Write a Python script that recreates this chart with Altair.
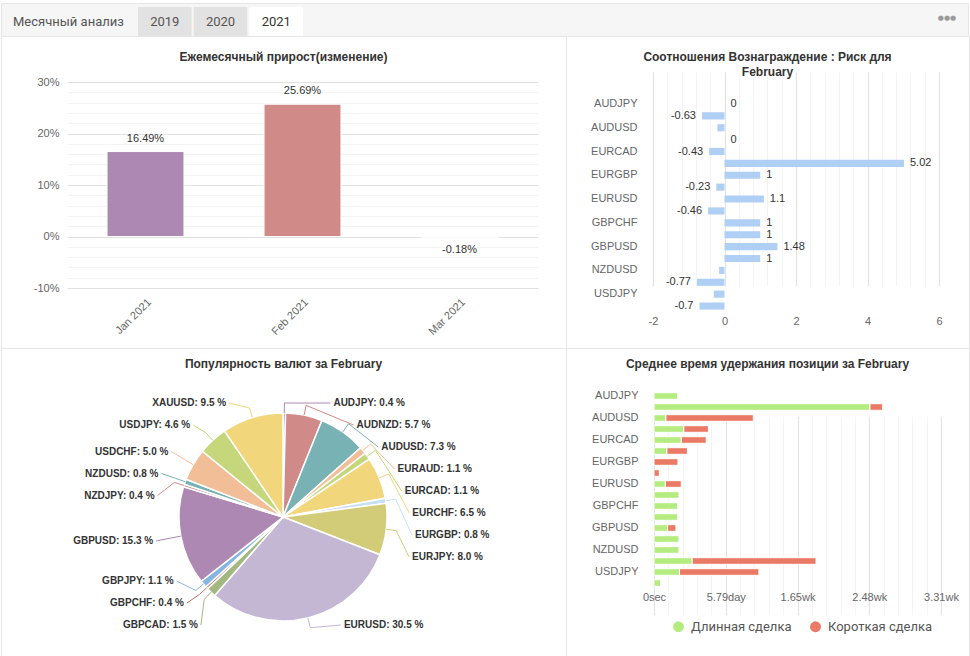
import altair as alt
import pandas as pd

# ---------------- data ----------------
tab_years = ["2019", "2020", "2021"]
active_year = "2021"

months = ["Jan 2021", "Feb 2021", "Mar 2021"]
monthly_growth = [16.49, 25.69, -0.18]

pairs = ["AUDJPY", "AUDNZD", "AUDUSD", "EURAUD", "EURCAD", "EURCHF", "EURGBP", "EURJPY", "EURUSD",
         "GBPCAD", "GBPCHF", "GBPJPY", "GBPUSD", "NZDJPY", "NZDUSD", "USDCHF", "USDJPY", "XAUUSD"]

reward_risk = [0, -0.63, -0.2, 0, -0.43, 5.02, 1, -0.23, 1.1,
               -0.46, 1, 1, 1.48, 1, -0.15, -0.77, -0.3, -0.7]
reward_risk_unlabelled = ["AUDUSD", "NZDUSD", "USDJPY"]

popularity = [0.4, 5.7, 7.3, 1.1, 1.1, 6.5, 0.8, 8.0, 30.5,
              1.5, 0.4, 1.1, 15.3, 0.4, 0.8, 5.0, 4.6, 9.5]

trade_kinds = ["Длинная сделка", "Короткая сделка"]
hold_long_sec = [167000, 1505000, 83000, 208000, 190000, 90000, 0, 0, 79000,
                 176000, 167000, 167000, 95000, 176000, 176000, 266000, 178000, 46000]
hold_short_sec = [0, 88000, 609000, 171000, 174000, 143000, 167000, 37000, 111000,
                  0, 0, 0, 58000, 0, 0, 863000, 553000, 0]

# ---------------- styling ----------------
palette = ["#AC88B2", "#D08A87", "#78B2B4", "#F1BE98", "#C5D77A", "#F1D67C",
           "#C8E0F6", "#D2CC78", "#C3B7D4", "#A3B880", "#C97070", "#85B6E3"]
pie_colors = (palette * 2)[:len(pairs)]
trade_colors = ["#B5EC7F", "#EA7A65"]
rr_bar_color = "#B0CFF4"

FONT = "Liberation Sans"
UI_FONT = "Roboto"
TEXT_DARK = "#333333"
AXIS_GREY = "#666666"
GRID_MAJOR = "#e2e2e2"
GRID_MINOR = "#f4f4f4"
BORDER = "#e6e6e6"
HEADER_BG = "#f6f6f6"

LEFT_W, RIGHT_W = 565, 403
HEAD_H, TOP_H, BOTTOM_H = 33, 312, 309


def grid_color(test):
    return {"condition": {"test": test, "value": GRID_MAJOR}, "value": GRID_MINOR}


def axis(**kw):
    base = dict(domain=False, ticks=False, labelFont=FONT, labelFontSize=11,
                labelColor=AXIS_GREY, title=None, labelOverlap=False, labelFlush=False)
    base.update(kw)
    return alt.Axis(**base)


def panel_title(text, x, y):
    return alt.Chart(pd.DataFrame({"t": [text]})).mark_text(
        font=FONT, fontSize=12, fontWeight="bold", color=TEXT_DARK,
        lineBreak="\n", lineHeight=15, baseline="middle", align="center"
    ).encode(x=alt.value(x), y=alt.value(y), text="t:N")


def frame_line(x, x2, y, y2):
    # thin border line of the tab strip
    return alt.Chart(pd.DataFrame({"a": [0]})).mark_rule(color=BORDER, strokeWidth=1).encode(
        x=alt.value(x), x2=alt.value(x2), y=alt.value(y), y2=alt.value(y2))


# ---------------- tab strip ----------------
tabs_df = pd.DataFrame({"year": tab_years, "active": [y == active_year for y in tab_years]})
tab_x = alt.X("year:N", sort=tab_years, axis=None,
              scale=alt.Scale(domain=tab_years, range=[137, 302], paddingInner=0.04, paddingOuter=0))
tab_rects = alt.Chart(tabs_df).mark_rect().encode(
    x=tab_x, y=alt.value(4), y2=alt.value(33.6),
    fill={"condition": {"test": "datum.active", "value": "#ffffff"}, "value": "#e2e2e2"},
)
tab_text = alt.Chart(tabs_df).mark_text(font=UI_FONT, fontSize=13, baseline="middle").encode(
    x=tab_x, y=alt.value(19), text="year:N",
    color={"condition": {"test": "datum.active", "value": "#333333"}, "value": "#555555"},
)
header_label = alt.Chart(pd.DataFrame({"t": ["Месячный анализ"]})).mark_text(
    font=UI_FONT, fontSize=13, color="#555555", align="left", baseline="middle"
).encode(x=alt.value(12), y=alt.value(19), text="t:N")
header_menu = alt.Chart(pd.DataFrame({"t": ["●●●"]})).mark_text(
    font="DejaVu Sans", fontSize=7, color="#9a9a9a", align="center", baseline="middle"
).encode(x=alt.value(381), y=alt.value(15), text="t:N")

head_view = alt.ViewBackground(fill=HEADER_BG, stroke=None)
header_left = alt.layer(
    frame_line(0, LEFT_W, 0.5, 0.5), frame_line(0.5, 0.5, 0, HEAD_H),
    tab_rects, tab_text, header_label,
).properties(width=LEFT_W, height=HEAD_H, view=head_view)
header_right = alt.layer(
    frame_line(0, RIGHT_W, 0.5, 0.5), frame_line(RIGHT_W - 0.5, RIGHT_W - 0.5, 0, HEAD_H),
    header_menu,
).properties(width=RIGHT_W, height=HEAD_H, view=head_view)

# ---------------- monthly growth ----------------
growth_df = pd.DataFrame({"month": months, "growth": monthly_growth})
g_x = alt.X("month:N", sort=months,
            scale=alt.Scale(domain=months, range=[66, 537], paddingInner=0.51, paddingOuter=0.255),
            axis=axis(orient="bottom", offset=-60, labelAngle=-45, labelPadding=8, grid=False))
g_y = alt.Y("growth:Q",
            scale=alt.Scale(domain=[-10, 30], range=[252, 46], nice=False, zero=False),
            axis=axis(orient="left", offset=-66, values=list(range(-10, 31, 2)),
                      labelExpr="datum.value % 10 === 0 ? toString(datum.value) + '%' : ''",
                      gridColor=grid_color("datum.value % 10 === 0"), labelPadding=8))
growth_base = alt.Chart(growth_df)
growth_bars = growth_base.mark_bar(stroke="white", strokeWidth=1).encode(
    x=g_x, y=g_y, y2=alt.datum(0),
    color=alt.Color("month:N", scale=alt.Scale(domain=months, range=palette[:3]), legend=None),
)
growth_lbl = growth_base.transform_calculate(lbl="toString(datum.growth) + '%'")
growth_pos = growth_lbl.transform_filter("datum.growth >= 0").mark_text(
    font=FONT, fontSize=11, color=TEXT_DARK, dy=-13, baseline="middle"
).encode(x=g_x, y=g_y, text="lbl:N")
growth_neg = growth_lbl.transform_filter("datum.growth < 0").mark_text(
    font=FONT, fontSize=11, color=TEXT_DARK, dy=13, baseline="middle"
).encode(x=g_x, y=g_y, text="lbl:N")

growth_panel = alt.layer(
    panel_title("Ежемесячный прирост(изменение)", 282.5, 21),
    growth_bars, growth_pos, growth_neg,
).properties(width=LEFT_W, height=TOP_H)

# ---------------- reward : risk ----------------
rr_df = pd.DataFrame({"pair": pairs, "rr": reward_risk})
rr_x = alt.X("rr:Q",
             scale=alt.Scale(domain=[-2, 6], range=[87, 373], nice=False, zero=False),
             axis=axis(orient="bottom", offset=-36, values=[round(-2 + 0.4 * i, 1) for i in range(21)],
                       labelExpr="datum.value % 2 === 0 ? toString(datum.value) : ''",
                       gridColor=grid_color("datum.value % 2 === 0"), labelPadding=3))
rr_y = alt.Y("pair:N", sort=pairs,
             scale=alt.Scale(domain=pairs, range=[62, 276], paddingInner=0.4, paddingOuter=0.2),
             axis=axis(orient="left", offset=-87, values=pairs[::2], labelPadding=16, grid=False))
rr_base = alt.Chart(rr_df)
rr_bars = rr_base.mark_bar(color=rr_bar_color).encode(x=rr_x, y=rr_y)
rr_lbl = rr_base.transform_filter(
    "indexof(['" + "','".join(reward_risk_unlabelled) + "'], datum.pair) < 0"
).transform_calculate(lbl="toString(datum.rr)")
rr_pos = rr_lbl.transform_filter("datum.rr >= 0").mark_text(
    font=FONT, fontSize=11, color=TEXT_DARK, align="left", dx=6, baseline="middle"
).encode(x=rr_x, y=rr_y, text="lbl:N")
rr_neg = rr_lbl.transform_filter("datum.rr < 0").mark_text(
    font=FONT, fontSize=11, color=TEXT_DARK, align="right", dx=-6, baseline="middle"
).encode(x=rr_x, y=rr_y, text="lbl:N")

rr_panel = alt.layer(
    panel_title("Соотношения Вознаграждение : Риск для\nFebruary", 201.5, 21),
    rr_bars, rr_pos, rr_neg,
).properties(width=RIGHT_W, height=TOP_H)

# ---------------- currency popularity (pie) ----------------
PIE_CX, PIE_CY, PIE_R = 282, 169, 104
LAB_R, LAB_RX, LAB_STEP = 130, 132, 22
LAB_TOP, LAB_BOTTOM = 55, 277

pie_df = pd.DataFrame({"pair": pairs, "share": popularity, "idx": list(range(len(pairs)))})
pie_color = alt.Color("pair:N", scale=alt.Scale(domain=pairs, range=pie_colors), legend=None)

pie = alt.Chart(pie_df).mark_arc(radius=PIE_R, stroke="white", strokeWidth=1.5).encode(
    theta=alt.Theta("share:Q", stack=True),
    color=pie_color,
    order=alt.Order("idx:Q"),
    x=alt.value(PIE_CX), y=alt.value(PIE_CY),
)

# label layout: slice mid-angles, then labels stacked per side without overlap
pie_labels = alt.Chart(pie_df).transform_window(
    cum="sum(share)", sort=[alt.SortField("idx")], frame=[None, 0]
).transform_joinaggregate(
    total="sum(share)"
).transform_calculate(
    mid="(datum.cum - datum.share / 2) / datum.total * 2 * PI"
).transform_calculate(
    side="datum.mid < PI ? 1 : -1",
    ny=f"{PIE_CY} - {LAB_R} * cos(datum.mid)",
).transform_calculate(
    td="datum.side > 0 ? datum.idx : 100 - datum.idx"
).transform_window(
    k="row_number()", groupby=["side"], sort=[alt.SortField("td", order="ascending")]
).transform_calculate(
    d=f"datum.ny - {LAB_STEP} * (datum.k - 1)"
).transform_window(
    dmax="max(d)", groupby=["side"], sort=[alt.SortField("td", order="ascending")], frame=[None, 0]
).transform_calculate(
    pd=f"{LAB_STEP} * (datum.k - 1) + max({LAB_TOP}, datum.dmax)"
).transform_window(
    m="row_number()", groupby=["side"], sort=[alt.SortField("td", order="descending")]
).transform_calculate(
    z=f"datum.pd + {LAB_STEP} * (datum.m - 1)"
).transform_window(
    zmin="min(z)", groupby=["side"], sort=[alt.SortField("td", order="descending")], frame=[None, 0]
).transform_calculate(
    ly=f"min({LAB_BOTTOM}, datum.zmin) - {LAB_STEP} * (datum.m - 1)"
).transform_calculate(
    ady="(datum.ny + datum.ly) / 2 - " + str(PIE_CY)
).transform_calculate(
    lx=f"{PIE_CX} + datum.side * sqrt(max(0, {LAB_RX * LAB_RX} - datum.ady * datum.ady))",
    ex=f"{PIE_CX} + {PIE_R} * sin(datum.mid)",
    ey=f"{PIE_CY} - {PIE_R} * cos(datum.mid)",
    bx=f"{PIE_CX} + {PIE_R + 10} * sin(datum.mid)",
    by=f"{PIE_CY} - {PIE_R + 10} * cos(datum.mid)",
    lbl="datum.pair + ': ' + format(datum.share, '.1f') + ' %'",
).transform_calculate(
    cx="datum.lx - datum.side * 3"
)

px = lambda f: alt.X(f"{f}:Q", scale=None, axis=None)
py = lambda f: alt.Y(f"{f}:Q", scale=None, axis=None)

conn_a = pie_labels.mark_rule(strokeWidth=1).encode(
    x=px("ex"), y=py("ey"), x2="bx:Q", y2="by:Q", color=pie_color)
conn_b = pie_labels.mark_rule(strokeWidth=1).encode(
    x=px("bx"), y=py("by"), x2="cx:Q", y2="ly:Q", color=pie_color)
lab_right = pie_labels.transform_filter("datum.side > 0").mark_text(
    font=FONT, fontSize=10, fontWeight="bold", color=TEXT_DARK, align="left", baseline="middle"
).encode(x=px("lx"), y=py("ly"), text="lbl:N")
lab_left = pie_labels.transform_filter("datum.side < 0").mark_text(
    font=FONT, fontSize=10, fontWeight="bold", color=TEXT_DARK, align="right", baseline="middle"
).encode(x=px("lx"), y=py("ly"), text="lbl:N")

pie_panel = alt.layer(
    panel_title("Популярность валют за February", 282.5, 16),
    pie, conn_a, conn_b, lab_right, lab_left,
).properties(width=LEFT_W, height=BOTTOM_H)

# ---------------- average holding time ----------------
n = len(pairs)
hold_df = pd.DataFrame({
    "pair": pairs * 2,
    "kind": [trade_kinds[0]] * n + [trade_kinds[1]] * n,
    "secs": hold_long_sec + hold_short_sec,
    "korder": [0] * n + [1] * n,
})
hold_label_expr = (
    "datum.value === 0 ? '0sec' : datum.value % 500000 !== 0 ? '' : "
    "datum.value < 604800 ? format(datum.value / 86400, '.2f') + 'day' : "
    "format(datum.value / 604800, '.2f') + 'wk'"
)
hold_x = alt.X("secs:Q", stack="zero",
               scale=alt.Scale(domain=[0, 2000000], range=[88, 375], nice=False, zero=False),
               axis=axis(orient="bottom", offset=-68.5, values=list(range(0, 2000001, 100000)),
                         labelExpr=hold_label_expr,
                         gridColor=grid_color("datum.value % 500000 === 0"), labelPadding=3))
hold_y = alt.Y("pair:N", sort=pairs,
               scale=alt.Scale(domain=pairs, range=[42.5, 240.5], paddingInner=0.4, paddingOuter=0.2),
               axis=axis(orient="left", offset=-88, values=pairs[::2], labelPadding=16, grid=False))
hold_bars = alt.Chart(hold_df).mark_bar(stroke="white", strokeWidth=1).encode(
    x=hold_x, y=hold_y,
    color=alt.Color("kind:N", scale=alt.Scale(domain=trade_kinds, range=trade_colors),
                    legend=alt.Legend(orient="none", legendX=106, legendY=272, direction="horizontal",
                                      title=None, symbolType="circle", symbolSize=120,
                                      symbolStrokeWidth=0, symbolOpacity=1,
                                      labelFont=UI_FONT, labelFontSize=13, labelColor="#555555",
                                      labelOffset=6, columnPadding=17, padding=0)),
    order=alt.Order("korder:Q"),
)

hold_panel = alt.layer(
    panel_title("Среднее время удержания позиции за February", 201.5, 16),
    hold_bars,
).properties(width=RIGHT_W, height=BOTTOM_H)

# ---------------- dashboard grid ----------------
chart = alt.concat(
    header_left, header_right,
    growth_panel, rr_panel,
    pie_panel, hold_panel,
    columns=2, spacing=0, bounds="flush",
).resolve_scale(
    color="independent", x="independent", y="independent"
).properties(
    padding={"left": 0, "top": 2, "right": 0, "bottom": 0}
).configure(font=FONT).configure_view(stroke=BORDER, strokeWidth=1, fill="white")

chart.save("out.html", embed_options={"renderer": "svg", "actions": False})
